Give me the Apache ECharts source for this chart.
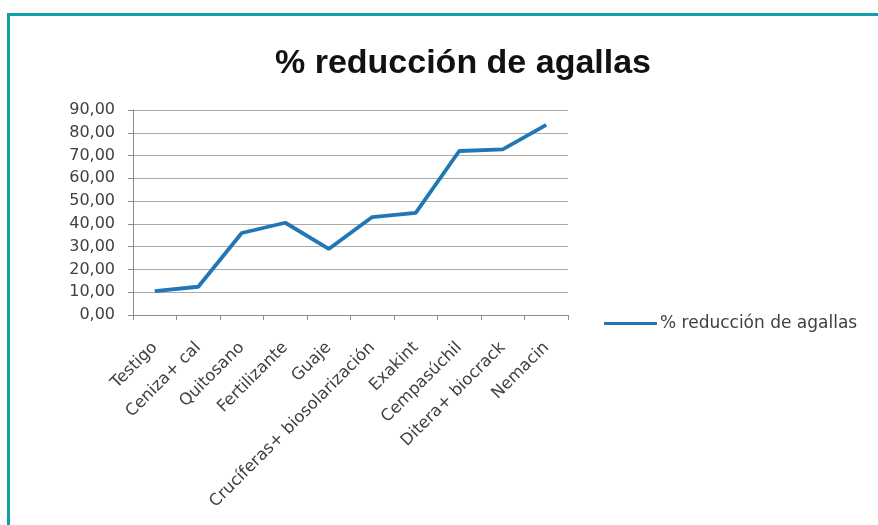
<!DOCTYPE html>
<html>
<head>
<meta charset="utf-8">
<script src="https://cdn.jsdelivr.net/npm/echarts@6/dist/echarts.min.js"></script>
<style>
  html, body { margin: 0; padding: 0; background: #ffffff; }
  #chart { width: 878px; height: 525px; }
</style>
</head>
<body>
<div id="chart"></div>
<script>
// Tratamientos evaluados
const categories = [
  'Testigo', 'Ceniza+ cal', 'Quitosano', 'Fertilizante', 'Guaje',
  'Crucíferas+ biosolarización', 'Exakint', 'Cempasúchil', 'Ditera+ biocrack', 'Nemacin'
];
// Porcentaje de reducción de agallas por tratamiento
const reduccion = [10.5, 12.4, 36.0, 40.5, 29.0, 43.0, 44.8, 72.0, 72.7, 83.5];
const seriesName = '% reducción de agallas';

const labelFont = 'DejaVu Sans, Verdana, sans-serif';
const chart = echarts.init(document.getElementById('chart'), null, { renderer: 'canvas' });

chart.setOption({
  backgroundColor: '#ffffff',
  animation: false,
  title: {
    text: '% reducción de agallas',
    left: 270,
    top: 42,
    textStyle: {
      fontFamily: 'Liberation Sans, Arial, sans-serif',
      fontSize: 34,
      fontWeight: 'bold',
      color: '#111111'
    }
  },
  legend: {
    data: [{ name: seriesName, icon: 'rect' }],
    left: 604,
    top: 315,
    padding: 0,
    itemWidth: 53,
    itemHeight: 3,
    itemGap: 4,
    textStyle: {
      fontFamily: labelFont,
      fontSize: 17,
      color: '#404040',
      padding: [0, 0, 0, -2]
    }
  },
  grid: {
    left: 133,
    right: 310,
    top: 110,
    bottom: 210,
    containLabel: false
  },
  xAxis: {
    type: 'category',
    data: categories,
    boundaryGap: true,
    axisLine: { lineStyle: { color: '#8c8c8c', width: 1 } },
    axisTick: { show: true, length: 5, lineStyle: { color: '#8c8c8c' } },
    axisLabel: {
      rotate: 45,
      interval: 0,
      margin: 30,
      fontFamily: labelFont,
      fontSize: 16.5,
      color: '#404040'
    },
    splitLine: { show: false }
  },
  yAxis: {
    type: 'value',
    min: 0,
    max: 90,
    interval: 10,
    axisLine: { show: true, lineStyle: { color: '#8c8c8c', width: 1 } },
    axisTick: { show: true, length: 5, lineStyle: { color: '#8c8c8c' } },
    axisLabel: {
      margin: 18,
      fontFamily: labelFont,
      fontSize: 16,
      color: '#404040',
      formatter: v => v.toFixed(2).replace('.', ',')
    },
    splitLine: { show: true, lineStyle: { color: '#aaaaaa', width: 1 } }
  },
  series: [{
    name: seriesName,
    type: 'line',
    data: reduccion,
    symbol: 'none',
    smooth: false,
    lineStyle: { color: '#2177b6', width: 3.8 },
    itemStyle: { color: '#2177b6' }
  }],
  graphic: [
    // marco superior e izquierdo
    { type: 'rect', shape: { x: 7, y: 13, width: 871, height: 3 }, style: { fill: '#12a0a8' }, silent: true },
    { type: 'rect', shape: { x: 7, y: 13, width: 3, height: 512 }, style: { fill: '#12a0a8' }, silent: true }
  ]
});
</script>
</body>
</html>
